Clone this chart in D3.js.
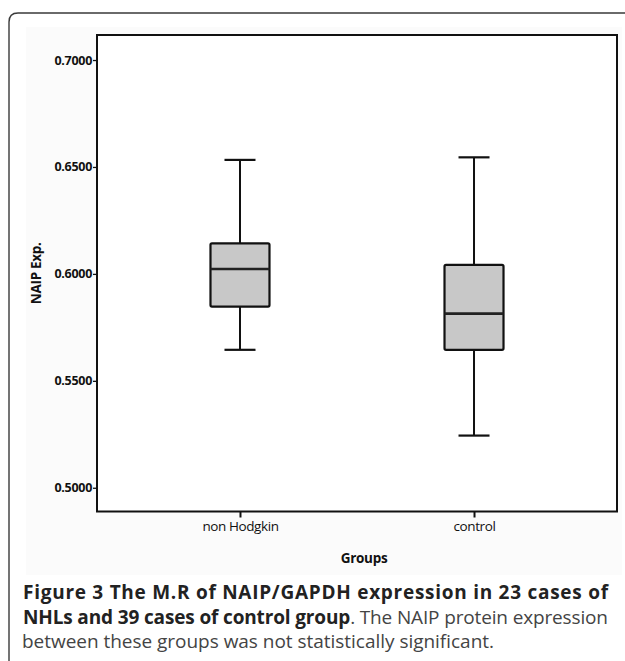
<!DOCTYPE html>
<html>
<head>
<meta charset="utf-8">
<script src="https://d3js.org/d3.v7.min.js"></script>
<style>
  body { margin: 0; background: #fff; }
  svg { display: block; }
</style>
</head>
<body>
<svg id="chart" width="625" height="661"></svg>
<script>
// groups and box stats
var groups = ['non Hodgkin', 'control'];
var whiskerHigh = [0.6533, 0.6545];
var q3 = [0.6143, 0.6042];
var medians = [0.6023, 0.5814];
var q1 = [0.5847, 0.5645];
var whiskerLow = [0.5645, 0.5244];
var yTicks = [0.5, 0.55, 0.6, 0.65, 0.7];

var svg = d3.select('#chart');
var plot = { left: 97, right: 617, top: 35, bottom: 511.5 };

/*
 * Outer figure frame (only top and left edges show, rounded corner)
 */
svg.append('rect')
  .attr('x', 26).attr('y', 27)
  .attr('width', 596).attr('height', 548)
  .attr('fill', '#fbfbfb');

svg.append('path')
  .attr('d', 'M9,661 L9,22 Q9,13 18,13 L625,13')
  .attr('fill', 'none')
  .attr('stroke', '#3a3a3a')
  .attr('stroke-width', 1.4);

/*
 * Scales
 */
var x = d3.scalePoint()
  .domain(groups)
  .range([plot.left, plot.right])
  .padding(0.611);

var y = d3.scaleLinear()
  .domain([0.4889, 0.7117])
  .range([plot.bottom, plot.top]);

svg.append('rect')
  .attr('x', plot.left).attr('y', plot.top)
  .attr('width', plot.right - plot.left)
  .attr('height', plot.bottom - plot.top)
  .attr('fill', '#fff');

/*
 * Axes
 */
var yAxis = svg.append('g')
  .attr('transform', 'translate(' + plot.left + ',0)')
  .call(d3.axisLeft(y).tickValues(yTicks).tickSize(4).tickPadding(1).tickFormat(d3.format('.4f')));
yAxis.select('.domain').remove();
yAxis.selectAll('line').attr('stroke', '#111').attr('stroke-width', 1.3);
yAxis.selectAll('text')
  .attr('font-family', 'Open Sans, sans-serif')
  .attr('font-size', 12.5)
  .attr('font-weight', 'bold')
  .attr('letter-spacing', -0.3)
  .attr('fill', '#111');

var xAxis = svg.append('g')
  .attr('transform', 'translate(0,' + plot.bottom + ')')
  .call(d3.axisBottom(x).tickSize(6).tickPadding(4));
xAxis.select('.domain').remove();
xAxis.selectAll('line').attr('stroke', '#111').attr('stroke-width', 2);
xAxis.selectAll('text')
  .attr('font-family', 'Open Sans, sans-serif')
  .attr('font-size', 13.5)
  .attr('letter-spacing', -0.4)
  .attr('fill', '#111');

svg.append('rect')
  .attr('x', plot.left).attr('y', plot.top)
  .attr('width', plot.right - plot.left)
  .attr('height', plot.bottom - plot.top)
  .attr('fill', 'none')
  .attr('stroke', '#111')
  .attr('stroke-width', 2);

svg.append('text')
  .attr('transform', 'translate(41,' + ((plot.top + plot.bottom) / 2) + ') rotate(-90)')
  .attr('text-anchor', 'middle')
  .attr('font-family', 'Open Sans, sans-serif')
  .attr('font-size', 13.5)
  .attr('font-weight', 'bold')
  .attr('letter-spacing', -0.3)
  .attr('fill', '#111')
  .text('NAIP Exp.');

svg.append('text')
  .attr('x', 364).attr('y', 563)
  .attr('text-anchor', 'middle')
  .attr('font-family', 'Open Sans, sans-serif')
  .attr('font-size', 13.5)
  .attr('font-weight', 'bold')
  .attr('letter-spacing', -0.3)
  .attr('fill', '#111')
  .text('Groups');

/*
 * Boxes
 */
var boxWidth = 59;
var capWidth = 31;

var box = svg.selectAll('.box')
  .data(groups)
  .enter().append('g')
  .attr('class', 'box');

box.append('line')
  .attr('x1', function(d) { return x(d); })
  .attr('x2', function(d) { return x(d); })
  .attr('y1', function(d, i) { return y(whiskerHigh[i]); })
  .attr('y2', function(d, i) { return y(whiskerLow[i]); })
  .attr('stroke', '#111')
  .attr('stroke-width', 2);

box.append('line')
  .attr('x1', function(d) { return x(d) - capWidth / 2; })
  .attr('x2', function(d) { return x(d) + capWidth / 2; })
  .attr('y1', function(d, i) { return y(whiskerHigh[i]); })
  .attr('y2', function(d, i) { return y(whiskerHigh[i]); })
  .attr('stroke', '#111')
  .attr('stroke-width', 2.2);

box.append('line')
  .attr('x1', function(d) { return x(d) - capWidth / 2; })
  .attr('x2', function(d) { return x(d) + capWidth / 2; })
  .attr('y1', function(d, i) { return y(whiskerLow[i]); })
  .attr('y2', function(d, i) { return y(whiskerLow[i]); })
  .attr('stroke', '#111')
  .attr('stroke-width', 2.2);

box.append('rect')
  .attr('x', function(d) { return x(d) - boxWidth / 2; })
  .attr('y', function(d, i) { return y(q3[i]); })
  .attr('width', boxWidth)
  .attr('height', function(d, i) { return y(q1[i]) - y(q3[i]); })
  .attr('rx', 1.5)
  .attr('fill', '#c8c8c8')
  .attr('stroke', '#111')
  .attr('stroke-width', 2.2);

box.append('line')
  .attr('x1', function(d) { return x(d) - boxWidth / 2; })
  .attr('x2', function(d) { return x(d) + boxWidth / 2; })
  .attr('y1', function(d, i) { return y(medians[i]); })
  .attr('y2', function(d, i) { return y(medians[i]); })
  .attr('stroke', '#222')
  .attr('stroke-width', 2.6);

/*
 * Caption
 */
var cap = svg.append('g')
  .attr('font-family', 'Open Sans, sans-serif')
  .attr('font-size', 19);

cap.append('text')
  .attr('x', 23).attr('y', 599)
  .attr('textLength', 585)
  .attr('lengthAdjust', 'spacing')
  .attr('font-weight', 'bold')
  .attr('fill', '#222')
  .text('Figure 3 The M.R of NAIP/GAPDH expression in 23 cases of');

var line2 = cap.append('text')
  .attr('x', 23).attr('y', 624)
  .attr('textLength', 585)
  .attr('lengthAdjust', 'spacing');
line2.append('tspan')
  .attr('font-weight', 'bold')
  .attr('fill', '#222')
  .text('NHLs and 39 cases of control group');
line2.append('tspan')
  .attr('fill', '#444')
  .text('. The NAIP protein expression');

cap.append('text')
  .attr('x', 22).attr('y', 648)
  .attr('textLength', 472)
  .attr('lengthAdjust', 'spacing')
  .attr('fill', '#444')
  .text('between these groups was not statistically significant.');
</script>
</body>
</html>
